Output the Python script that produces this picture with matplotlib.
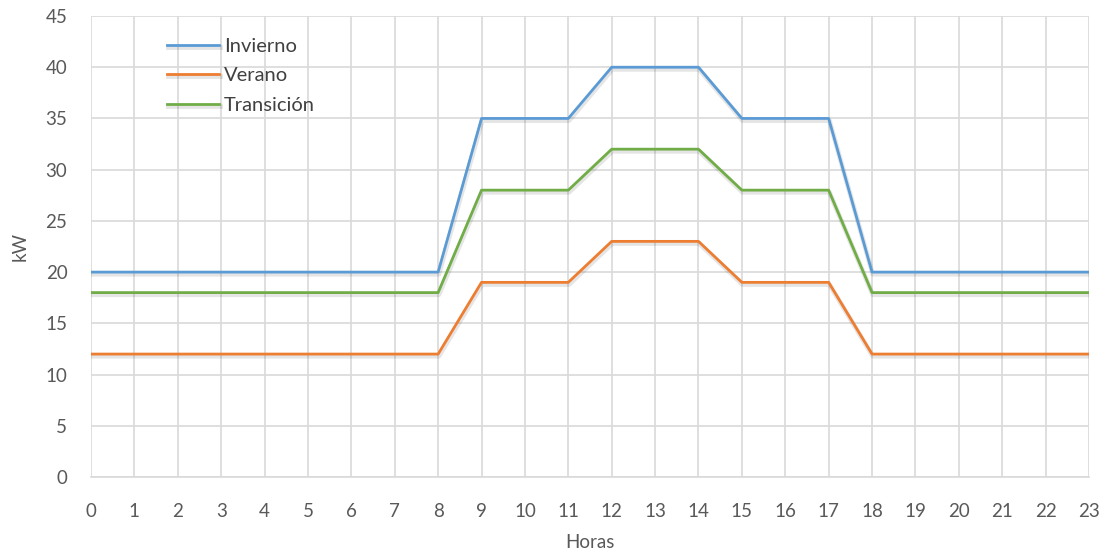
import matplotlib
matplotlib.use("Agg")
import matplotlib.pyplot as plt
import matplotlib.patheffects as pe

plt.rcParams['font.family'] = ['Lato', 'DejaVu Sans']

horas = list(range(24))
invierno = [20, 20, 20, 20, 20, 20, 20, 20, 20, 35, 35, 35, 40, 40, 40, 35, 35, 35, 20, 20, 20, 20, 20, 20]
verano = [12, 12, 12, 12, 12, 12, 12, 12, 12, 19, 19, 19, 23, 23, 23, 19, 19, 19, 12, 12, 12, 12, 12, 12]
transicion = [18, 18, 18, 18, 18, 18, 18, 18, 18, 28, 28, 28, 32, 32, 32, 28, 28, 28, 18, 18, 18, 18, 18, 18]
y_ticks = list(range(0, 46, 5))

fig = plt.figure(figsize=(11.04, 5.59), dpi=100)
ax = fig.add_axes([91 / 1104, 1 - 477 / 559, (1089 - 91) / 1104, (477 - 16) / 559])

shadow = [pe.SimpleLineShadow(offset=(0.5, -1.5), shadow_color='black', alpha=0.10, linewidth=3.5), pe.Normal()]
ax.plot(horas, invierno, color='#5B9BD5', lw=2.0, label='Invierno', path_effects=shadow, zorder=3)
ax.plot(horas, verano, color='#ED7D31', lw=2.0, label='Verano', path_effects=shadow, zorder=3)
ax.plot(horas, transicion, color='#70AD47', lw=2.0, label='Transición', path_effects=shadow, zorder=3)

ax.set_xlim(0, 23)
ax.set_ylim(0, 45)
ax.set_xticks(horas)
ax.set_yticks(y_ticks)
ax.grid(True, color='#D9D9D9', lw=1.2)
ax.set_axisbelow(True)
for side in ['top', 'right', 'left']:
    ax.spines[side].set_visible(False)
ax.spines['bottom'].set_color('#D9D9D9')
ax.spines['bottom'].set_linewidth(1.2)
ax.tick_params(length=0, labelsize=13.5, colors='#595959')
ax.tick_params(axis='x', pad=19)
ax.tick_params(axis='y', pad=17)

ax.set_xlabel('Horas', fontsize=13.5, color='#595959', labelpad=10)
ax.set_ylabel('kW', fontsize=13.5, color='#595959', labelpad=12)

leg = ax.legend(loc='upper left', bbox_to_anchor=(0.076, 0.952), frameon=False,
                fontsize=14.5, handlelength=2.6, handletextpad=0.25, labelspacing=0.6,
                borderaxespad=0, borderpad=0)
for t in leg.get_texts():
    t.set_color('#404040')

fig.savefig('out.png', dpi=100)
